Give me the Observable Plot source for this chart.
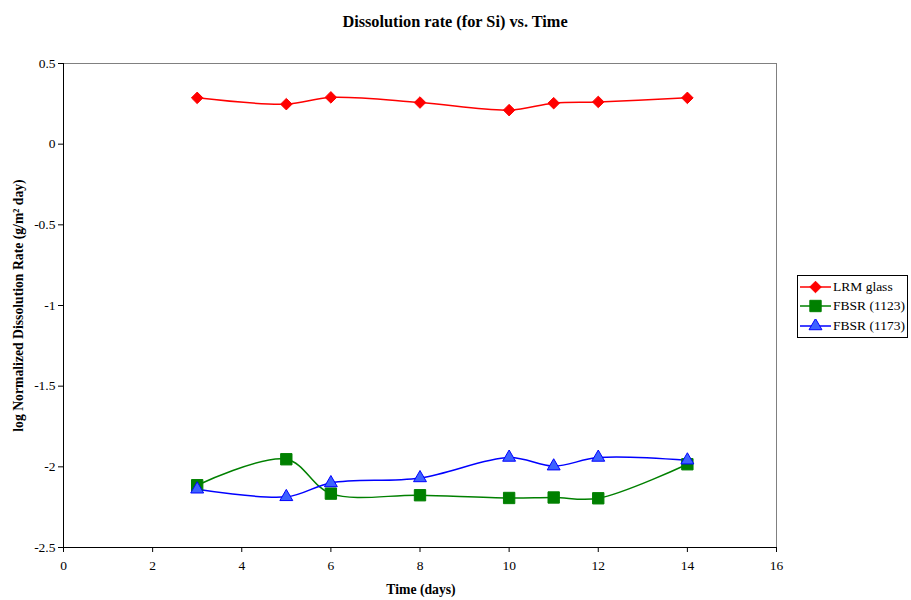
<!DOCTYPE html>
<html><head><meta charset="utf-8">
<script src="https://cdn.jsdelivr.net/npm/d3@7"></script>
<script src="https://cdn.jsdelivr.net/npm/@observablehq/plot@0.6"></script>
<style>
body{margin:0;background:#fff;}
#wrap{position:relative;width:911px;height:600px;font-family:"Liberation Serif","Times New Roman",serif;}
#legend{position:absolute;left:797px;top:275px;width:111px;height:63px;border:1px solid #000;box-sizing:border-box;background:#fff;font-size:13.5px;}
#legend .row{position:absolute;left:2px;height:20px;display:flex;align-items:center;white-space:nowrap;}
#legend svg{display:block;margin-right:2px;}
</style>
</head><body><div id="wrap"><div id="legend"></div></div>
<script>
const title = "Dissolution rate (for Si) vs. Time";
const xLabel = "Time (days)";
const yLabel = "log Normalized Dissolution Rate (g/m² day)";
const days = [3, 5, 6, 8, 10, 11, 12, 14];
const lrmGlass = [0.287, 0.248, 0.290, 0.258, 0.211, 0.254, 0.262, 0.287];
const fbsr1123 = [-2.114, -1.953, -2.166, -2.176, -2.193, -2.190, -2.195, -1.984];
const fbsr1173 = [-2.139, -2.186, -2.100, -2.069, -1.942, -1.996, -1.942, -1.959];
const seriesNames = ["LRM glass", "FBSR (1123)", "FBSR (1173)"];
const seriesColors = ["#ff0000", "#008000", "#0000ff"];
const seriesFills = ["#ff0000", "#008000", "#3d63ff"];
const seriesSymbols = ["diamond2", "square", "triangle"];
const seriesR = [5.2, 6.4, 4.8];
const xTicks = [0, 2, 4, 6, 8, 10, 12, 14, 16];
const yTicks = [-2.5, -2, -1.5, -1, -0.5, 0, 0.5];

const allValues = [lrmGlass, fbsr1123, fbsr1173];
const rows = [];
allValues.forEach((vals, s) => days.forEach((d, i) => rows.push({series: seriesNames[s], day: d, value: vals[i]})));

const marks = [
  Plot.ruleY([0.5], {stroke: "#808080", strokeWidth: 1}),
  Plot.ruleX([16], {stroke: "#808080", strokeWidth: 1}),
  Plot.axisX({ticks: xTicks, tickSize: 5, tickPadding: 8, tickFormat: d => String(d), label: null, fontSize: 13.5}),
  Plot.axisY({ticks: yTicks, tickSize: 5, tickPadding: 3, tickFormat: d => String(d), label: null, fontSize: 13.5}),
  Plot.ruleX([0], {stroke: "#000"}),
  Plot.ruleY([-2.5], {stroke: "#000"})
];
seriesNames.forEach((name, s) => {
  const data = rows.filter(r => r.series === name);
  marks.push(Plot.line(data, {x: "day", y: "value", stroke: seriesColors[s], strokeWidth: 1.5, curve: "catmull-rom"}));
});
seriesNames.forEach((name, s) => {
  const data = rows.filter(r => r.series === name);
  marks.push(Plot.dot(data, {x: "day", y: "value", symbol: () => seriesSymbols[s], r: seriesR[s], fill: seriesFills[s], stroke: seriesColors[s], strokeWidth: 1}));
});
marks.push(Plot.text([title], {frameAnchor: "top", dx: 35, dy: -48, fontSize: 16.3, fontWeight: "bold", text: d => d}));
marks.push(Plot.text([xLabel], {frameAnchor: "bottom", dx: 1, dy: 46, fontSize: 13.7, fontWeight: "bold", text: d => d}));
marks.push(Plot.text([yLabel], {frameAnchor: "left", textAnchor: "middle", dx: -45, rotate: -90, fontSize: 13.7, fontWeight: "bold", text: d => d}));

const chart = Plot.plot({
  width: 911, height: 600,
  marginLeft: 63, marginRight: 135, marginTop: 63, marginBottom: 53,
  style: {fontFamily: '"Liberation Serif","Times New Roman",serif', fontSize: "13.5px", background: "#fff", color: "#000"},
  x: {domain: [0, 16]},
  y: {domain: [-2.5, 0.5]},
  marks
});
document.getElementById("wrap").prepend(chart);

const legend = document.getElementById("legend");
seriesNames.forEach((name, s) => {
  const row = document.createElement("div");
  row.className = "row";
  row.style.top = (1 + s * 19.3) + "px";
  const sw = d3.create("svg").attr("width", 31).attr("height", 14);
  sw.append("line").attr("x1", 0).attr("x2", 31).attr("y1", 7).attr("y2", 7).attr("stroke", seriesColors[s]).attr("stroke-width", 1.5);
  const sym = {diamond2: d3.symbolDiamond2, square: d3.symbolSquare, triangle: d3.symbolTriangle}[seriesSymbols[s]];
  sw.append("path").attr("transform", "translate(15.5,7)").attr("d", d3.symbol(sym, Math.PI * seriesR[s] * seriesR[s])()).attr("fill", seriesFills[s]).attr("stroke", seriesColors[s]);
  row.appendChild(sw.node());
  const t = document.createElement("span");
  t.textContent = name;
  row.appendChild(t);
  legend.appendChild(row);
});
</script>
</body></html>
